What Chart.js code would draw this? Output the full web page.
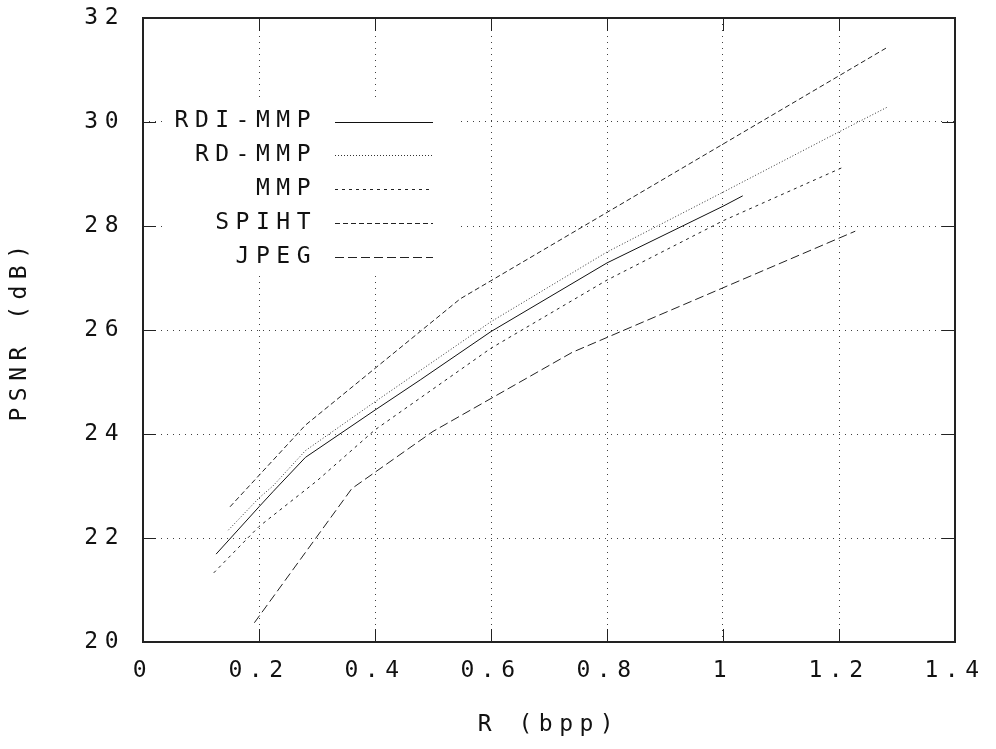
<!DOCTYPE html>
<html>
<head>
<meta charset="utf-8">
<script src="https://cdn.jsdelivr.net/npm/chart.js"></script>
<style>
  html, body { margin: 0; padding: 0; background: #fff; }
  #chart { display: block; }
</style>
</head>
<body>
<canvas id="chart" width="996" height="749"></canvas>
<script>
// data: rate (bpp) and PSNR (dB) per coder
const rdiMmpR    = [0.126, 0.2, 0.224, 0.28, 0.4, 0.478, 0.6, 0.8, 1.0, 1.034];
const rdiMmpPsnr = [21.69, 22.6, 22.89, 23.55, 24.46, 25.04, 25.97, 27.29, 28.38, 28.58];

const rdMmpR    = [0.147, 0.2, 0.224, 0.28, 0.4, 0.6, 0.8, 1.0, 1.2, 1.284];
const rdMmpPsnr = [22.15, 22.77, 23.0, 23.68, 24.62, 26.16, 27.5, 28.65, 29.81, 30.29];

const mmpR    = [0.122, 0.2, 0.3, 0.4, 0.6, 0.8, 1.0, 1.205];
const mmpPsnr = [21.33, 22.22, 23.1, 24.08, 25.65, 26.96, 28.1, 29.12];

const spihtR    = [0.15, 0.28, 0.547, 1.284];
const spihtPsnr = [22.6, 24.17, 26.6, 31.44];

const jpegR    = [0.192, 0.36, 0.5, 0.74, 1.228];
const jpegPsnr = [20.37, 22.95, 24.05, 25.57, 27.9];

const seriesNames = ['RDI-MMP', 'RD-MMP', 'MMP', 'SPIHT', 'JPEG'];

const FONT = '"DejaVu Sans Mono", "Liberation Mono", monospace';
const SPACING = '6.5px';

const pts = (xs, ys) => xs.map((v, i) => ({x: v, y: ys[i]}));

function line(label, xs, ys, dash, color) {
    return {
        label: label,
        data: pts(xs, ys),
        showLine: true,
        borderColor: color,
        backgroundColor: color,
        borderWidth: 1,
        borderDash: dash,
        pointRadius: 0,
        pointHoverRadius: 0,
        tension: 0
    };
}

// frame, inward ticks, and the boxed key
const gnuplotLook = {
    id: 'gnuplotLook',
    beforeDraw(chart) {
        chart.ctx.letterSpacing = SPACING;
    },
    afterDatasetsDraw(chart) {
        const {ctx, chartArea: a, scales: {x, y}} = chart;
        ctx.save();
        ctx.strokeStyle = '#222';
        ctx.lineWidth = 1;
        ctx.setLineDash([]);
        ctx.beginPath();
        x.ticks.forEach(t => {
            const px = Math.round(x.getPixelForValue(t.value)) + 0.5;
            ctx.moveTo(px, a.bottom); ctx.lineTo(px, a.bottom - 13);
            ctx.moveTo(px, a.top); ctx.lineTo(px, a.top + 13);
        });
        y.ticks.forEach(t => {
            const py = Math.round(y.getPixelForValue(t.value)) + 0.5;
            ctx.moveTo(a.left, py); ctx.lineTo(a.left + 13, py);
            ctx.moveTo(a.right, py); ctx.lineTo(a.right - 13, py);
        });
        ctx.stroke();
        ctx.lineWidth = 2;
        ctx.strokeRect(a.left, a.top, a.right - a.left, a.bottom - a.top);
        ctx.restore();
    },
    afterDraw(chart) {
        const {ctx, chartArea: a} = chart;
        ctx.save();
        ctx.fillStyle = '#fff';
        ctx.fillRect(a.left + 23, a.top + 84, 290, 172);
        ctx.font = '23px ' + FONT;
        ctx.letterSpacing = SPACING;
        ctx.textAlign = 'right';
        ctx.textBaseline = 'middle';
        chart.data.datasets.forEach((ds, i) => {
            const yy = a.top + 103.5 + i * 33.8;
            ctx.fillStyle = '#111';
            ctx.fillText(ds.label, a.left + 174, yy);
            ctx.strokeStyle = ds.borderColor;
            ctx.lineWidth = ds.borderWidth;
            ctx.setLineDash(ds.borderDash || []);
            ctx.beginPath();
            ctx.moveTo(a.left + 192, Math.round(yy) + 0.5);
            ctx.lineTo(a.left + 290, Math.round(yy) + 0.5);
            ctx.stroke();
        });
        ctx.restore();
    }
};

const ctx1 = document.getElementById('chart');

new Chart(ctx1, {
    type: 'scatter',
    data: {
        datasets: [
            line(seriesNames[0], rdiMmpR, rdiMmpPsnr, [], '#111'),
            line(seriesNames[1], rdMmpR, rdMmpPsnr, [1, 2], '#333'),
            line(seriesNames[2], mmpR, mmpPsnr, [3, 4], '#222'),
            line(seriesNames[3], spihtR, spihtPsnr, [5, 3], '#222'),
            line(seriesNames[4], jpegR, jpegPsnr, [9, 4], '#222')
        ]
    },
    options: {
        responsive: false,
        animation: false,
        layout: {
            padding: {left: 0, top: 18, right: 41, bottom: 0}
        },
        plugins: {
            legend: {display: false},
            tooltip: {enabled: false}
        },
        scales: {
            x: {
                type: 'linear',
                min: 0,
                max: 1.4,
                afterFit: (s) => {
                    s.height = 107;
                    s.paddingLeft = 0;
                    s.paddingRight = 0;
                },
                ticks: {
                    stepSize: 0.2,
                    padding: 15,
                    color: '#111',
                    font: {family: FONT, size: 23},
                    callback: (v) => String(Math.round(v * 10) / 10)
                },
                grid: {
                    color: 'rgba(0,0,0,0.75)',
                    lineWidth: 1,
                    drawTicks: false
                },
                border: {display: false, dash: [1, 5]},
                title: {
                    display: true,
                    text: 'R (bpp)',
                    color: '#111',
                    font: {family: FONT, size: 23},
                    padding: {top: 0, bottom: 10}
                }
            },
            y: {
                min: 20,
                max: 32,
                afterFit: (s) => {
                    s.width = 143;
                    s.paddingTop = 0;
                    s.paddingBottom = 0;
                },
                ticks: {
                    stepSize: 2,
                    padding: 18,
                    color: '#111',
                    font: {family: FONT, size: 23}
                },
                grid: {
                    color: 'rgba(0,0,0,0.75)',
                    lineWidth: 1,
                    drawTicks: false
                },
                border: {display: false, dash: [1, 5]},
                title: {
                    display: true,
                    text: 'PSNR (dB)',
                    color: '#111',
                    font: {family: FONT, size: 23},
                    padding: {top: 6, bottom: 0}
                }
            }
        }
    },
    plugins: [gnuplotLook]
});
</script>
</body>
</html>
